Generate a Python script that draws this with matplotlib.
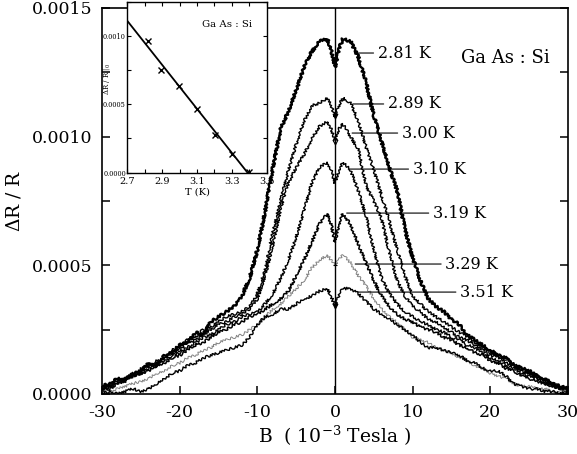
import matplotlib

matplotlib.use("Agg")
import matplotlib.pyplot as plt
import numpy as np
from matplotlib.ticker import FormatStrFormatter, MultipleLocator

plt.rcParams["font.family"] = ["DejaVu Serif"]
plt.rcParams["mathtext.fontset"] = "dejavuserif"
plt.rcParams["axes.unicode_minus"] = False

# magnetic field, 10^-3 Tesla
B_FIELD = [
    -30, -29, -28, -27, -26, -25, -24, -23, -22, -21,
    -20, -19, -18, -17, -16, -15, -14, -13, -12, -11,
    -10, -9, -8, -7, -6, -5, -4, -3, -2, -1,
    -0.5, 0, 0.5,
    1, 2, 3, 4, 5, 6, 7, 8, 9, 10,
    11, 12, 13, 14, 15, 16, 17, 18, 19, 20,
    21, 22, 23, 24, 25, 26, 27, 28, 29, 30,
]

# delta R / R in units of 1e-5
DR_281 = [
    3, 4, 6, 5, 8, 9, 12, 11, 15, 16, 19, 20, 24, 23, 28, 30, 32, 34, 38, 45,
    56, 71, 88, 103, 110, 118, 127, 133, 137, 138,
    134, 127, 134,
    138, 137, 131, 121, 108, 98, 88, 79, 64, 53, 44, 37, 34, 32, 29, 27,
    23, 21, 19, 17, 15, 14, 11, 10, 9, 7, 6, 4, 3, 2,
]
DR_289 = [
    2, 4, 5, 6, 7, 10, 11, 13, 14, 17, 18, 21, 22, 25, 26, 28, 30, 31, 32, 34,
    39, 48, 63, 75, 87, 97, 106, 112, 113, 115,
    112, 108, 112,
    115, 113, 106, 96, 87, 77, 67, 56, 46, 38, 35, 32, 30, 28, 26, 24,
    22, 20, 18, 16, 15, 13, 12, 10, 8, 7, 5, 4, 3, 2,
]
DR_300 = [
    2, 3, 5, 6, 8, 9, 11, 12, 14, 16, 17, 20, 21, 23, 25, 27, 28, 30, 31, 33,
    37, 46, 58, 72, 82, 88, 93, 99, 104, 106,
    103, 98, 103,
    105, 100, 95, 81, 75, 68, 55, 44, 38, 34, 32, 29, 28, 26, 24, 22,
    21, 19, 17, 15, 14, 12, 11, 9, 8, 6, 5, 4, 2, 2,
]
DR_310 = [
    1, 3, 4, 6, 7, 8, 10, 12, 13, 15, 16, 18, 20, 22, 23, 25, 27, 28, 30, 31,
    32, 35, 39, 45, 52, 61, 71, 82, 88, 90,
    87, 82, 87,
    90, 87, 79, 69, 56, 45, 39, 35, 32, 30, 28, 27, 25, 24, 22, 21,
    19, 18, 16, 14, 13, 11, 10, 8, 7, 6, 4, 3, 2, 1,
]
DR_319 = [
    2, 2, 4, 5, 7, 8, 9, 11, 12, 14, 15, 17, 19, 20, 22, 24, 25, 27, 28, 30,
    31, 33, 35, 37, 40, 46, 52, 59, 66, 70,
    66, 59, 66,
    70, 66, 58, 51, 44, 38, 34, 31, 29, 28, 26, 25, 24, 22, 21, 19,
    18, 16, 15, 13, 12, 10, 9, 7, 6, 5, 4, 3, 2, 1,
]
DR_329 = [
    1, 1, 2, 3, 4, 5, 6, 8, 9, 11, 12, 14, 15, 17, 18, 20, 21, 22, 23, 25,
    27, 30, 33, 35, 38, 41, 44, 49, 52, 54,
    52, 50, 52,
    54, 51, 46, 42, 37, 33, 30, 28, 25, 22, 21, 20, 18, 17, 16, 14,
    13, 11, 10, 8, 7, 6, 4, 3, 3, 2, 2, 1, 1, 1,
]
DR_351 = [
    0, 1, 0, 1, 2, 1, 2, 4, 6, 8, 9, 11, 12, 14, 15, 16, 17, 18, 19, 22,
    27, 30, 31, 33, 33, 35, 37, 38, 40, 41,
    38, 34, 38,
    41, 41, 39, 36, 33, 31, 29, 27, 25, 23, 20, 18, 18, 17, 16, 15,
    13, 12, 10, 9, 9, 7, 4, 3, 2, 2, 1, 1, 0, 1,
]
CURVE_LABELS = ["2.81 K", "2.89 K", "3.00 K", "3.10 K", "3.19 K", "3.29 K", "3.51 K"]
CURVES = [DR_281, DR_289, DR_300, DR_310, DR_319, DR_329, DR_351]
UNIT = 1e-5

# inset: amplitude at B=0 vs temperature
INSET_T = [2.816, 2.893, 2.997, 3.098, 3.203, 3.30, 3.40]
INSET_DR = [0.000963, 0.00075, 0.000637, 0.000466, 0.000276, 0.000137, 0.000005]
FIT_T = [2.7, 3.39]
FIT_DR = [0.00111, 0.0]

# per-curve styling: line width, colour, centre marker
STYLES = [
    {"lw": 1.7, "color": "black", "marker": None, "mfc": "black"},
    {"lw": 1.0, "color": "black", "marker": "v", "mfc": "black"},
    {"lw": 1.0, "color": "black", "marker": "v", "mfc": "white"},
    {"lw": 1.0, "color": "black", "marker": None, "mfc": "black"},
    {"lw": 1.1, "color": "black", "marker": None, "mfc": "black"},
    {"lw": 0.7, "color": "#808080", "marker": "_", "mfc": "black"},
    {"lw": 1.0, "color": "black", "marker": "v", "mfc": "black"},
]
# label placement: (leader start B, text left B, height)
LABEL_POS = [
    (2.6, 5.5, 0.001325),
    (2.3, 6.8, 0.001127),
    (2.2, 8.6, 0.001014),
    (1.7, 10.0, 0.000874),
    (1.5, 12.6, 0.000703),
    (2.6, 14.2, 0.000505),
    (3.0, 16.1, 0.000396),
]

fig = plt.figure(figsize=(5.77, 4.54), dpi=100)
ax = fig.add_axes([0.1768, 0.1322, 0.8076, 0.8502])

b = np.asarray(B_FIELD, dtype=float)
centre = B_FIELD.index(0)
for values, style in zip(CURVES, STYLES):
    y = np.asarray(values, dtype=float) * UNIT
    (line,) = ax.plot(b, y, color=style["color"], lw=style["lw"], solid_joinstyle="round")
    # scanned traces are jittery: draw with a hand-drawn sketch style
    line.set_sketch_params(scale=1.3, length=4.0, randomness=3.0)
    if style["marker"]:
        ax.plot(0, y[centre], marker=style["marker"], ms=3.5, mfc=style["mfc"],
                mec="black", mew=0.8, ls="none")

ax.axvline(0, color="black", lw=1.0)

for label, (start, text_x, y) in zip(CURVE_LABELS, LABEL_POS):
    ax.annotate(
        label, xy=(start, y), xytext=(text_x, y), ha="left", va="center", fontsize=11.5,
        arrowprops=dict(arrowstyle="-", lw=0.8, color="black", shrinkA=1, shrinkB=0),
    )
ax.text(22.0, 0.001306, "Ga As : Si", ha="center", va="center", fontsize=13)

ax.set_xlim(-30, 30)
ax.set_ylim(0, 0.0015)
ax.set_xticks([-30, -20, -10, 0, 10, 20, 30])
ax.yaxis.set_major_locator(MultipleLocator(0.0005))
ax.yaxis.set_minor_locator(MultipleLocator(0.00025))
ax.yaxis.set_major_formatter(FormatStrFormatter("%.4f"))
ax.tick_params(which="both", direction="in", length=6, width=1.1, labelsize=12.5,
               right=True, pad=7)
for spine in ax.spines.values():
    spine.set_linewidth(1.2)
ax.set_xlabel(r"B  ( 10$^{-3}$ Tesla )", fontsize=13.5, labelpad=2)
ax.set_ylabel(r"$\Delta$R / R", fontsize=13.5, labelpad=6)

# inset
ins = fig.add_axes([0.2206, 0.6196, 0.2417, 0.3767])
ins.set_facecolor("white")
ins.plot(FIT_T, FIT_DR, color="black", lw=1.3)
ins.plot(INSET_T, INSET_DR, ls="none", marker="x", ms=4.5, mew=1.0, color="black")
ins.set_xlim(2.7, 3.5)
ins.set_ylim(0, 0.00125)
ins.set_xticks([2.7, 2.9, 3.1, 3.3, 3.5])
ins.xaxis.set_minor_locator(MultipleLocator(0.1))
ins.yaxis.set_major_locator(MultipleLocator(0.0005))
ins.yaxis.set_minor_locator(MultipleLocator(0.00025))
ins.yaxis.set_major_formatter(FormatStrFormatter("%.4f"))
ins.tick_params(which="both", direction="in", length=3, width=0.8, top=True, right=True)
ins.tick_params(axis="x", labelsize=7, pad=3)
ins.tick_params(axis="y", labelsize=4.8, pad=1)
for spine in ins.spines.values():
    spine.set_linewidth(1.0)
ins.set_xlabel("T (K)", fontsize=7, labelpad=1)
ins.set_ylabel(r"$\Delta$R / R $|_0$", fontsize=5)
ins.yaxis.set_label_coords(-0.11, 0.55)
ins.text(0.715, 0.864, "Ga As : Si", transform=ins.transAxes, ha="center",
         va="center", fontsize=7.3)

fig.savefig("out.png", dpi=100)
